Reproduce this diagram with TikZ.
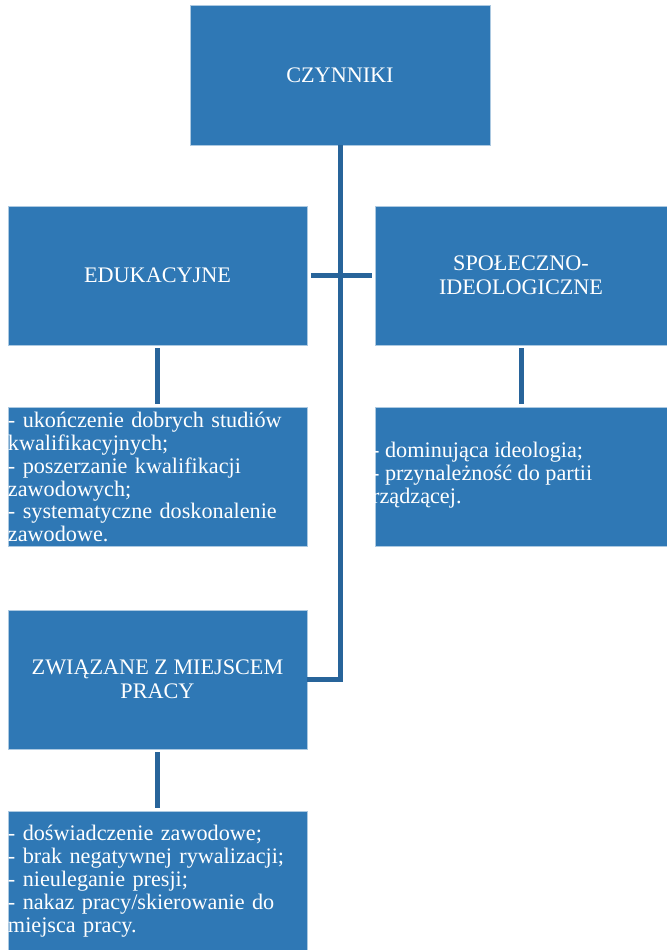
\documentclass[tikz,border=0pt]{standalone}
\usepackage{fontspec}
\setmainfont{Liberation Serif}
\definecolor{boxblue}{HTML}{2F78B5}
\definecolor{lineblue}{HTML}{28649A}
\begin{document}
\begin{tikzpicture}[x=1bp,y=-1bp,
  box/.style={draw=boxblue!40!white,line width=0.8bp,fill=boxblue,text=white,
    minimum width=299bp,minimum height=139bp,inner sep=0pt,align=center,
    font=\rmfamily\fontsize{22.2bp}{24bp}\selectfont},
  detail/.style={box,align=left,text width=299bp,
    font=\rmfamily\fontsize{22.2bp}{22.9bp}\selectfont},
  conn/.style={draw=lineblue,line width=5bp}]
\useasboundingbox (0,0) rectangle (667,950);
\node[box,minimum width=300bp,minimum height=140bp] (czy) at (340,75) {CZYNNIKI};
\node[box] (edu) at (157.5,275.5) {EDUKACYJNE};
\node[box,minimum width=292bp] (spo) at (521,275.5) {SPOŁECZNO-\\IDEOLOGICZNE};
\node[detail] (edud) at (157.5,477) {- ukończenie dobrych studiów\\kwalifikacyjnych;\\- poszerzanie kwalifikacji\\zawodowych;\\- systematyczne doskonalenie\\zawodowe.};
\node[detail,minimum width=292bp,text width=295bp,xshift=1.5bp] (spod) at (521,477) {};
\node[text=white,align=left,inner sep=0pt,anchor=west,font=\rmfamily\fontsize{22.2bp}{22.9bp}\selectfont] (spot) at (372,475) {- dominująca ideologia;\\- przynależność do partii\\rządzącej.};
\node[box] (zw) at (157.5,679.5) {ZWIĄZANE Z MIEJSCEM\\PRACY};
\node[detail] (zwd) at (157.5,881) {- doświadczenie zawodowe;\\- brak negatywnej rywalizacji;\\- nieuleganie presji;\\- nakaz pracy/skierowanie do\\miejsca pracy.};
\draw[conn] (czy.south) |- (zw.east);
\draw[conn,shorten <=3.5bp,shorten >=3bp] (edu.east) -- (spo.west);
\draw[conn,shorten <=3bp,shorten >=3.5bp] (edu.south) -- (edud.north);
\draw[conn,shorten <=3bp,shorten >=3.5bp] (spo.south) -- (spo.south |- spod.north);
\draw[conn,shorten <=3bp,shorten >=3.5bp] (zw.south) -- (zwd.north);
\end{tikzpicture}
\end{document}
